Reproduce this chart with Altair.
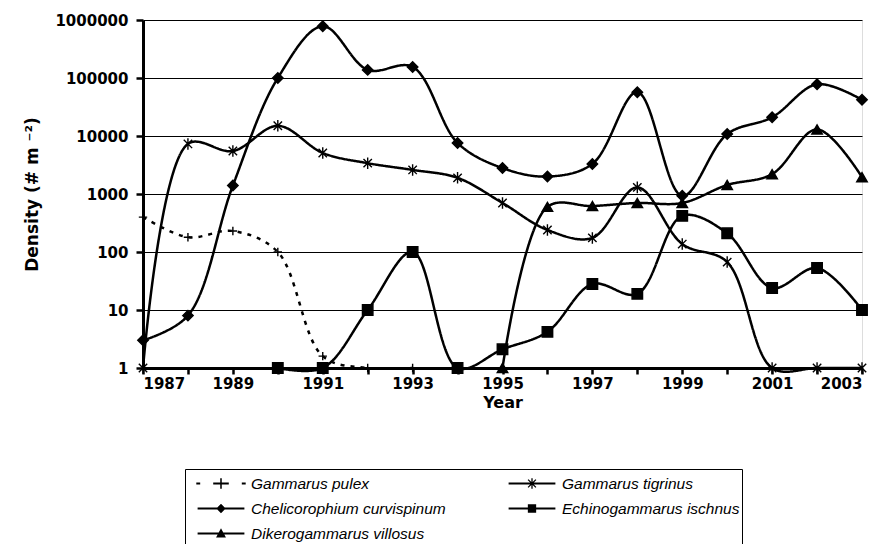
import altair as alt
import pandas as pd

years = list(range(1987, 2004))
species = ["Gammarus pulex", "Gammarus tigrinus", "Chelicorophium curvispinum",
           "Echinogammarus ischnus", "Dikerogammarus villosus"]

pulex = [400, 180, 230, 100, 1.6, 1, 1, None, None, None, None, None, None, None, None, None, None]
tigrinus = [1, 7300, 5500, 15000, 5100, 3400, 2600, 1900, 700, 240, 175, 1300, 137, 67, 1, 1, 1]
curvispinum = [3, 8, 1400, 100000, 780000, 138000, 155000, 7600, 2800, 2000, 3300, 57000, 930,
               10800, 21000, 78000, 42000]
ischnus = [None, None, None, 1, 1, 10, 100, 1, 2.1, 4.2, 28, 19, 420, 210, 24, 53, 10]
villosus = [None] * 8 + [1, 600, 620, 700, 700, 1430, 2200, 13000, 1950]

series = [pulex, tigrinus, curvispinum, ischnus, villosus]
rows = []
for name, vals in zip(species, series):
    for yr, v in zip(years, vals):
        if v is not None:
            rows.append({"Year": yr, "Species": name, "Density": v})
df = pd.DataFrame(rows)

y_ticks = [1, 10, 100, 1000, 10000, 100000, 1000000]

# chart markers
plus_m = "M-0.8,0H0.8M0,-0.8V0.8"
star_m = "M0,-1.1V1.1M-0.8,-0.8L0.8,0.8M-0.8,0.8L0.8,-0.8"
marker_shapes = [plus_m, star_m, "diamond", "square", "triangle-up"]

# legend symbols (line + marker), drawn as filled outlines
T = 0.04
line_full = f"M-0.9,-{T}H0.9V{T}H-0.9Z"
leg_pulex = (f"M-0.95,-{T}H-0.8V{T}H-0.95Z"
             f"M-0.3,-{T}H0.3V{T}H-0.3Z"
             f"M0.8,-{T}H0.95V{T}H0.8Z"
             f"M-0.03,-0.2H0.03V0.2H-0.03Z")
leg_tig = (line_full +
           "M-0.025,-0.2H0.025V0.2H-0.025Z"
           "M-0.132,-0.168L0.168,0.132L0.132,0.168L-0.168,-0.132Z"
           "M-0.168,0.132L0.132,-0.168L0.168,-0.132L-0.132,0.168Z")
leg_cur = line_full + "M0,-0.18L0.18,0L0,0.18L-0.18,0Z"
leg_isc = line_full + "M-0.16,-0.16H0.16V0.16H-0.16Z"
leg_vil = line_full + "M0,-0.2L0.19,0.15H-0.19Z"
legend_shapes = [leg_pulex, leg_tig, leg_cur, leg_isc, leg_vil]

x_enc = alt.X("Year:Q",
              scale=alt.Scale(domain=[1987, 2003], nice=False, zero=False),
              axis=alt.Axis(values=years, format="d", title="Year",
                            labelExpr="datum.value % 2 == 1 ? datum.label : ''",
                            labelOverlap=False, grid=False,
                            domainWidth=3, domainColor="black",
                            tickColor="black", tickWidth=2.5, tickSize=6,
                            labelFont="DejaVu Sans", labelFontWeight="bold",
                            labelFontSize=15, labelColor="black", labelPadding=2,
                            titleFont="DejaVu Sans", titleFontWeight="bold",
                            titleFontSize=16, titleColor="black", titlePadding=3))
y_enc = alt.Y("Density:Q",
              scale=alt.Scale(type="log", domain=[1, 1000000], nice=False),
              axis=alt.Axis(values=y_ticks, format="d", title="Density (# m  ⁻²)",
                            grid=True, gridColor="black", gridWidth=1,
                            domainWidth=3, domainColor="black",
                            tickColor="black", tickWidth=2.5, tickSize=7,
                            labelFont="DejaVu Sans", labelFontWeight="bold",
                            labelFontSize=15, labelColor="black", labelPadding=8,
                            titleFont="DejaVu Sans", titleFontWeight="bold",
                            titleFontSize=17, titleColor="black", titlePadding=13))

lines = alt.Chart(df).mark_line(interpolate="catmull-rom", color="black", strokeWidth=2.5).encode(
    x=x_enc, y=y_enc,
    detail="Species:N",
    strokeDash=alt.StrokeDash("Species:N",
                              scale=alt.Scale(domain=species,
                                              range=[[4, 6], [1, 0], [1, 0], [1, 0], [1, 0]]),
                              legend=None),
)

points = alt.Chart(df).mark_point(fill="black", stroke="black", strokeWidth=1.4,
                                  opacity=1, size=110).encode(
    x="Year:Q", y="Density:Q",
    shape=alt.Shape("Species:N", scale=alt.Scale(domain=species, range=marker_shapes),
                    legend=None),
)

legend_layer = alt.Chart(df).mark_point(filled=True, color="black", opacity=0).encode(
    x="Year:Q", y="Density:Q",
    shape=alt.Shape("Species:N", scale=alt.Scale(domain=species, range=legend_shapes),
                    legend=alt.Legend(orient="none", legendX=42, legendY=449, columns=2,
                                      direction="horizontal",
                                      title=None, labelFont="Liberation Sans",
                                      labelFontStyle="italic", labelFontSize=15.5,
                                      labelLimit=400,
                                      labelColor="black", symbolSize=2704, clipHeight=25,
                                      strokeColor="black", padding=2, columnPadding=52,
                                      rowPadding=0, symbolFillColor="black",
                                      symbolStrokeColor="black", symbolStrokeWidth=0,
                                      symbolOpacity=1, symbolOffset=8, labelOffset=4)),
)

chart = alt.layer(lines, points, legend_layer).resolve_scale(
    shape="independent", strokeDash="independent"
).properties(
    width=719, height=348, autosize="none",
    padding={"left": 135, "top": 12, "right": 23, "bottom": 176},
).configure_view(stroke="#808080", strokeWidth=1).configure(font="DejaVu Sans")

chart.save("out.html", embed_options={"renderer": "svg", "actions": False})
